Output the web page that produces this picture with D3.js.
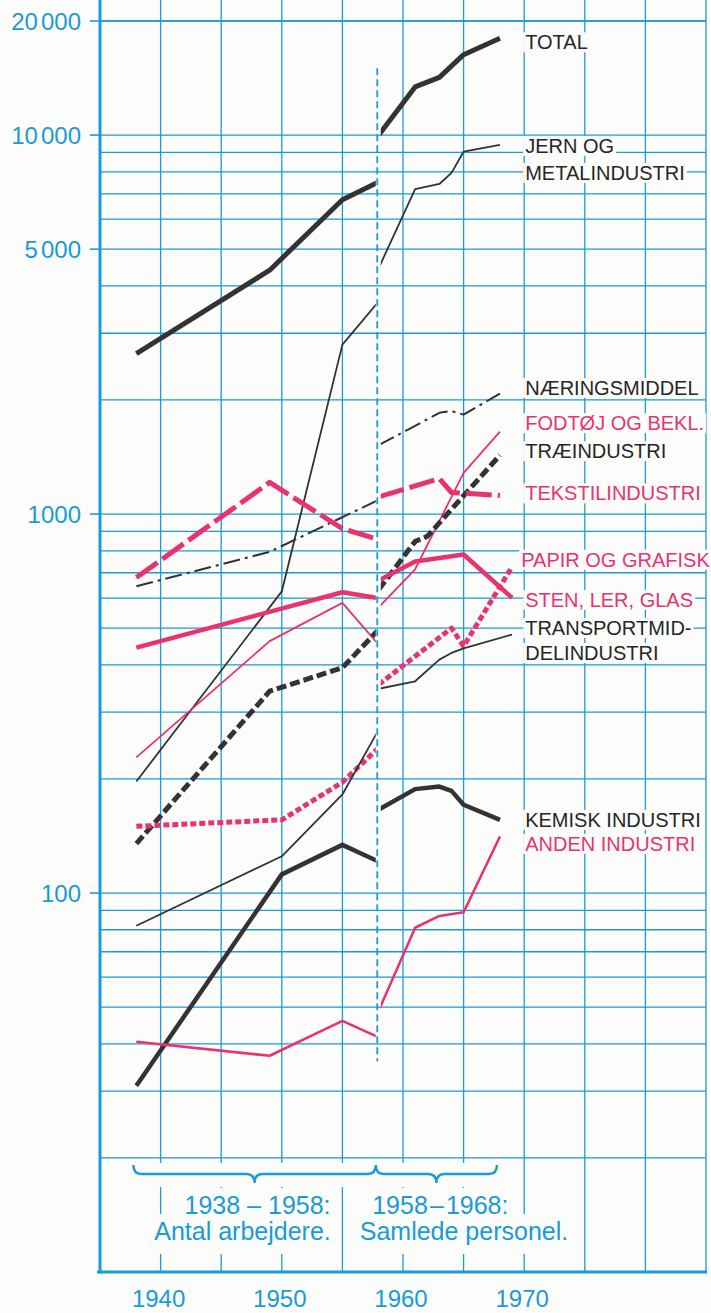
<!DOCTYPE html>
<html>
<head>
<meta charset="utf-8">
<script src="https://cdn.jsdelivr.net/npm/d3@7"></script>
<style>
  body { margin: 0; background: #fcfcfa; }
  svg { display: block; }
  text { font-family: "Liberation Sans", Arial, Helvetica, sans-serif; }
</style>
</head>
<body>
<svg width="711" height="1313"></svg>
<script>
// 1938-1958: antal arbejdere, 1958-1968: samlede personel
const total1 = [[1938, 2650], [1949, 4400], [1955, 6750], [1958, 7520]];
const total2 = [[1958, 10000], [1961, 13400], [1963, 14200], [1965, 16300], [1968, 18000]];
const jern1 = [[1938, 197], [1950, 625], [1955, 2800], [1958, 3640]];
const jern2 = [[1958, 4460], [1961, 7200], [1963, 7430], [1964, 7950], [1965, 9040], [1968, 9420]];
const naering1 = [[1938, 645], [1949, 795], [1958, 1090]];
const naering2 = [[1958, 1520], [1963, 1850], [1964, 1870], [1965, 1830], [1968, 2080]];
const fodtoj1 = [[1938, 228], [1949, 462], [1955, 583], [1958, 452]];
const fodtoj2 = [[1958, 568], [1961, 715], [1965, 1284], [1968, 1650]];
const trae1 = [[1938, 135], [1949, 341], [1955, 393], [1958, 496]];
const trae2 = [[1958, 632], [1961, 847], [1962, 873], [1968, 1430]];
const tekstil1 = [[1938, 680], [1949, 1212], [1955, 915], [1958, 856]];
const tekstil2 = [[1958, 1110], [1963, 1240], [1964, 1140], [1968, 1120]];
const papir1 = [[1938, 150], [1950, 156], [1955, 196], [1958, 242]];
const papir2 = [[1958, 355], [1964, 500], [1965, 448], [1969, 726]];
const sten1 = [[1938, 444], [1955, 622], [1958, 600]];
const sten2 = [[1958, 668], [1961, 750], [1965, 782], [1969, 601]];
const transport1 = [[1938, 82], [1950, 125], [1955, 182], [1958, 270]];
const transport2 = [[1958, 346], [1961, 362], [1963, 413], [1964, 430], [1965, 442], [1969, 481]];
const kemisk1 = [[1938, 31], [1950, 112], [1955, 134], [1958, 121]];
const kemisk2 = [[1958, 166], [1961, 188], [1963, 191], [1964, 186], [1965, 171], [1968, 156]];
const anden1 = [[1938, 40.5], [1949, 37.2], [1955, 46], [1958, 41.6]];
const anden2 = [[1958, 49], [1961, 81], [1963, 87], [1965, 89], [1968, 141]];

const seriesNames = ['TOTAL', 'JERN', 'NAERING', 'FODTOJ', 'TRAE', 'TEKSTIL',
  'PAPIR', 'STEN', 'TRANSPORT', 'KEMISK', 'ANDEN'];
const seriesParts = [[total1, total2], [jern1, jern2], [naering1, naering2], [fodtoj1, fodtoj2],
  [trae1, trae2], [tekstil1, tekstil2], [papir1, papir2], [sten1, sten2],
  [transport1, transport2], [kemisk1, kemisk2], [anden1, anden2]];
const seriesLabels = [['TOTAL'], ['JERN OG', 'METALINDUSTRI'], ['NÆRINGSMIDDEL'], ['FODTØJ OG BEKL.'],
  ['TRÆINDUSTRI'], ['TEKSTILINDUSTRI'], ['PAPIR OG GRAFISK'], ['STEN, LER, GLAS'],
  ['TRANSPORTMID-', 'DELINDUSTRI'], ['KEMISK INDUSTRI'], ['ANDEN INDUSTRI']];

const yTickValues = [20000, 10000, 5000, 1000, 100];
const yTickLabels = [['20', '000'], ['10', '000'], ['5', '000'], ['1000'], ['100']];
const xTickValues = [1940, 1950, 1960, 1970];
const periodLabels = ['1938 – 1958:', '1958\u200A–\u200A1968:'];
const periodNotes = ['Antal arbejdere.', 'Samlede personel.'];

const blue = '#1a9ad6';
const ink = '#333333';
const pink = '#e8336f';

// styling per series
const styles = {
  TOTAL: { c: ink, w: 5 },
  JERN: { c: ink, w: 1.8 },
  NAERING: { c: ink, w: 2, dash: '17,5,3,5' },
  FODTOJ: { c: pink, w: 1.8 },
  TRAE: { c: ink, w: 5, dash: '10,4' },
  TEKSTIL: { c: pink, w: 5, dash: '26,6' },
  PAPIR: { c: pink, w: 5, dash: '6,3' },
  STEN: { c: pink, w: 4.5 },
  TRANSPORT: { c: ink, w: 1.8 },
  KEMISK: { c: ink, w: 4.5 },
  ANDEN: { c: pink, w: 2.6 },
};
// label baseline offsets from the line end (px)
const labelDy = {
  TOTAL: [11], JERN: [8, 35], NAERING: [1.5], FODTOJ: [-1.5], TRAE: [3], TEKSTIL: [5],
  PAPIR: [0], STEN: [9], TRANSPORT: [0.5, 25.5], KEMISK: [7], ANDEN: [14.5],
};

const svg = d3.select('svg');
const x = d3.scaleLinear().domain([1935, 1985]).range([100, 706]);
const y = d3.scaleLog().domain([10, 20000]).range([1272, 21]);
const bottom = y(10);

// background grid
const grid = svg.append('g').attr('stroke', blue).attr('stroke-width', 1.3);
const gridValues = [];
[10, 100, 1000, 10000].forEach((p) => {
  for (let m = 1; m <= 9; m++) {
    const v = m * p;
    if (v > 10 && v <= 20000) gridValues.push(v);
  }
});
gridValues.push(20000);
grid.selectAll('line.h').data(gridValues).join('line')
  .attr('class', 'h')
  .attr('x1', x(1935)).attr('x2', x(1985))
  .attr('y1', (d) => y(d)).attr('y2', (d) => y(d));
grid.selectAll('line.v').data(d3.range(1940, 1986, 5)).join('line')
  .attr('class', 'v')
  .attr('x1', (d) => x(d)).attr('x2', (d) => x(d))
  .attr('y1', 0).attr('y2', bottom);

// knockouts behind text go here
const knock = svg.append('g').attr('fill', '#fcfcfa');

// axes
svg.append('line').attr('x1', x(1935)).attr('x2', x(1935)).attr('y1', 0).attr('y2', bottom + 1.5)
  .attr('stroke', blue).attr('stroke-width', 3);
svg.append('line').attr('x1', x(1935) - 3).attr('x2', x(1985) + 1).attr('y1', bottom).attr('y2', bottom)
  .attr('stroke', blue).attr('stroke-width', 3);

const yAxis = svg.append('g');
yAxis.selectAll('line').data(yTickValues).join('line')
  .attr('x1', x(1935) - 10).attr('x2', x(1935))
  .attr('y1', (d) => y(d)).attr('y2', (d) => y(d))
  .attr('stroke', blue).attr('stroke-width', 1.6);
yAxis.selectAll('text').data(yTickValues).join('text')
  .attr('x', x(1935) - 19).attr('y', (d) => y(d)).attr('dy', '0.36em')
  .attr('text-anchor', 'end').attr('font-size', 24).attr('fill', blue)
  .each(function (d, i) {
    const t = d3.select(this);
    yTickLabels[i].forEach((s, k) => {
      t.append('tspan').attr('dx', k ? 3 : 0).text(s);
    });
  });

svg.append('g').selectAll('text').data(xTickValues).join('text')
  .attr('x', (d) => x(d) - 2).attr('y', 1307)
  .attr('text-anchor', 'middle').attr('font-size', 24).attr('fill', blue)
  .text((d) => d);

// 1958 divider
svg.append('line')
  .attr('x1', x(1958) - 1.5).attr('x2', x(1958) - 1.5)
  .attr('y1', y(15000)).attr('y2', y(36))
  .attr('stroke', blue).attr('stroke-width', 1.8).attr('stroke-dasharray', '7,4');

// clips to keep the two periods apart from the divider
const defs = svg.append('defs');
defs.append('clipPath').attr('id', 'p1').append('rect')
  .attr('x', 0).attr('y', 0).attr('width', x(1958) - 3).attr('height', bottom);
defs.append('clipPath').attr('id', 'p2').append('rect')
  .attr('x', x(1958) + 2).attr('y', 0).attr('width', 711).attr('height', bottom);

const line = d3.line().x((d) => x(d[0])).y((d) => y(d[1]));
const lines = svg.append('g').attr('fill', 'none').attr('stroke-linejoin', 'round');
seriesNames.forEach((name, i) => {
  const st = styles[name];
  seriesParts[i].forEach((part, k) => {
    lines.append('path')
      .attr('d', line(part))
      .attr('clip-path', `url(#p${k + 1})`)
      .attr('stroke', st.c)
      .attr('stroke-width', st.w)
      .attr('stroke-dasharray', st.dash || null);
  });
});

// series labels on the right
const labelG = svg.append('g').attr('font-size', 20);
seriesNames.forEach((name, i) => {
  const parts = seriesParts[i];
  const last = parts[1][parts[1].length - 1];
  const lx = name === 'PAPIR' ? x(1970) - 3 : x(1970) + 1;
  seriesLabels[i].forEach((txt, j) => {
    const by = y(last[1]) + labelDy[name][j];
    const t = labelG.append('text')
      .attr('x', lx).attr('y', by)
      .attr('fill', styles[name].c === pink ? pink : '#262626')
      .text(txt);
    const bb = t.node().getBBox();
    knock.append('rect')
      .attr('x', bb.x - 2).attr('width', bb.width + 4)
      .attr('y', by - 17).attr('height', 20);
  });
});

// period braces under the chart
const braceY = 1165;
function brace(x0, x1) {
  const m = (x0 + x1) / 2;
  const b = braceY + 9;
  return `M${x0},${braceY} Q${x0},${b} ${x0 + 8},${b} L${m - 8},${b} Q${m},${b} ${m},${b + 9}`
    + ` Q${m},${b} ${m + 8},${b} L${x1 - 8},${b} Q${x1},${b} ${x1},${braceY}`;
}
const bx = [x(1938) - 3, x(1958) - 3, x(1968) - 3];
knock.append('rect').attr('x', bx[0] - 3).attr('width', bx[2] - bx[0] + 6)
  .attr('y', braceY - 2).attr('height', 24);
const notes = svg.append('g').attr('fill', blue).attr('font-size', 25);
svg.append('path').attr('d', brace(bx[0], bx[1]) + brace(bx[1], bx[2]).replace('M', ' M'))
  .attr('fill', 'none').attr('stroke', blue).attr('stroke-width', 2.4);

const noteRows = [
  { t: periodLabels[0], x: (bx[0] + bx[1]) / 2 + 3, y: 1214, a: 'middle' },
  { t: periodLabels[1], x: (bx[1] + bx[2]) / 2 + 4, y: 1214, a: 'middle' },
  { t: periodNotes[0], x: bx[1] - 45, y: 1240, a: 'end' },
  { t: periodNotes[1], x: bx[1] - 16, y: 1240, a: 'start' },
];
noteRows.forEach((r, i) => {
  const t = notes.append('text').attr('x', r.x).attr('y', r.y).attr('text-anchor', r.a).text(r.t);
  const bb = t.node().getBBox();
  const extra = i >= 2 ? 8 : 0;
  knock.append('rect').attr('x', bb.x - 4).attr('width', bb.width + 8)
    .attr('y', bb.y - 3).attr('height', bb.height + 4 + extra);
});
</script>
</body>
</html>
